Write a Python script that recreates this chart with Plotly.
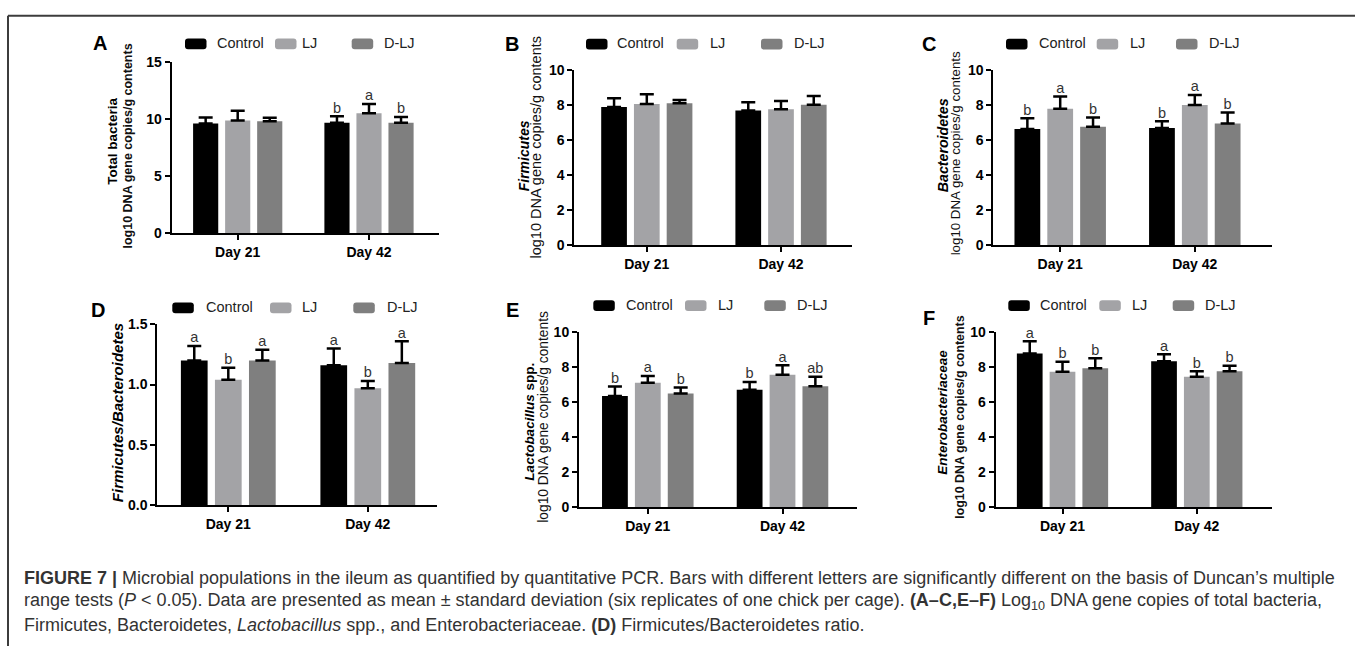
import plotly.graph_objects as go

W, H = 1355, 654
FONT = "Arial, 'Liberation Sans', sans-serif"

days = ["Day 21", "Day 42"]
groups = ["Control", "LJ", "D-LJ"]
colors = {"Control": "#000000", "LJ": "#a3a3a6", "D-LJ": "#7f7f7f"}

# ---- data (mean, SD, significance letters) ----
total_mean = {"Control": [9.60, 9.66], "LJ": [9.86, 10.50], "D-LJ": [9.80, 9.66]}
total_sd = {"Control": [0.52, 0.57], "LJ": [0.85, 0.80], "D-LJ": [0.30, 0.50]}
total_let = {"Control": ["", "b"], "LJ": ["", "a"], "D-LJ": ["", "b"]}

firm_mean = {"Control": [7.88, 7.68], "LJ": [8.05, 7.74], "D-LJ": [8.09, 8.01]}
firm_sd = {"Control": [0.50, 0.46], "LJ": [0.55, 0.48], "D-LJ": [0.18, 0.49]}
firm_let = {"Control": ["", ""], "LJ": ["", ""], "D-LJ": ["", ""]}

bact_mean = {"Control": [6.65, 6.71], "LJ": [7.81, 8.03], "D-LJ": [6.78, 6.97]}
bact_sd = {"Control": [0.62, 0.39], "LJ": [0.70, 0.56], "D-LJ": [0.53, 0.63]}
bact_let = {"Control": ["b", "b"], "LJ": ["a", "a"], "D-LJ": ["b", "b"]}

ratio_mean = {"Control": [1.20, 1.16], "LJ": [1.04, 0.97], "D-LJ": [1.20, 1.18]}
ratio_sd = {"Control": [0.12, 0.14], "LJ": [0.10, 0.06], "D-LJ": [0.09, 0.18]}
ratio_let = {"Control": ["a", "a"], "LJ": ["b", "b"], "D-LJ": ["a", "a"]}

lact_mean = {"Control": [6.34, 6.70], "LJ": [7.10, 7.55], "D-LJ": [6.49, 6.90]}
lact_sd = {"Control": [0.54, 0.44], "LJ": [0.38, 0.55], "D-LJ": [0.34, 0.54]}
lact_let = {"Control": ["b", "b"], "LJ": ["a", "a"], "D-LJ": ["b", "ab"]}

entero_mean = {"Control": [8.76, 8.33], "LJ": [7.73, 7.44], "D-LJ": [7.92, 7.76]}
entero_sd = {"Control": [0.70, 0.39], "LJ": [0.56, 0.32], "D-LJ": [0.58, 0.31]}
entero_let = {"Control": ["a", "a"], "LJ": ["b", "b"], "D-LJ": ["b", "b"]}

ticks_15 = [0, 5, 10, 15]
ticks_10 = [0, 2, 4, 6, 8, 10]
ticks_ratio = [0.0, 0.5, 1.0, 1.5]

# ---- layout of panels (pixel geometry) ----
panels = [
    dict(letter="A", mean=total_mean, sd=total_sd, let=total_let, ymax=15, ticks=ticks_15, fmt="d",
         x0=171.7, x1=439, y0=231, yt=55, c1=237.7, c2=369,
         title="<b>Total bacteria</b>", tsize=13.5, tx=113, ty=136,
         sub="<b>log10 DNA gene copies/g contents</b>", ssize=12.5, sx=128, sy=142,
         lab=(100, 36), leg_y=36.7, boxes=[185, 275, 351.7], texts=[215, 300, 381.7]),
    dict(letter="B", mean=firm_mean, sd=firm_sd, let=firm_let, ymax=10, ticks=ticks_10, fmt="d",
         x0=574.3, x1=852, y0=243, yt=63.3, c1=646.8, c2=781,
         title="<b><i>Firmicutes</i></b>", tsize=14, tx=524, ty=152,
         sub="log10 DNA gene copies/g contents", ssize=14.5, sx=536, sy=143,
         lab=(512, 37), leg_y=37, boxes=[586, 676.7, 761], texts=[615, 707.7, 791.7]),
    dict(letter="C", mean=bact_mean, sd=bact_sd, let=bact_let, ymax=10, ticks=ticks_10, fmt="d",
         x0=993.3, x1=1272, y0=243.3, yt=64, c1=1060.2, c2=1194.8,
         title="<b><i>Bacteroidetes</i></b>", tsize=14.2, tx=942.7, ty=141,
         sub="log10 DNA gene copies/g contents", ssize=13.3, sx=955, sy=149,
         lab=(929, 37), leg_y=37, boxes=[1006, 1096.7, 1176], texts=[1036.7, 1128.3, 1206.7]),
    dict(letter="D", mean=ratio_mean, sd=ratio_sd, let=ratio_let, ymax=1.5, ticks=ticks_ratio, fmt=".1f",
         x0=157.3, x1=437.3, y0=509.5, yt=324.3, c1=228.3, c2=367.8,
         title="<b><i>Firmicutes/Bacteroidetes</i></b>", tsize=15, tx=118.3, ty=415,
         sub=None, ssize=12, sx=0, sy=0,
         lab=(98, 310), leg_y=307.3, boxes=[172.3, 270, 353.3], texts=[204, 300, 385]),
    dict(letter="E", mean=lact_mean, sd=lact_sd, let=lact_let, ymax=10, ticks=ticks_10, fmt="d",
         x0=579, x1=857, y0=511.6, yt=332, c1=647.8, c2=782.5,
         title="<b><i>Lactobacillus</i> spp.</b>", tsize=13.5, tx=530, ty=424,
         sub="log10 DNA gene copies/g contents", ssize=13.8, sx=544, sy=419,
         lab=(512, 310), leg_y=305, boxes=[593.3, 685, 764.3], texts=[624, 716, 795]),
    dict(letter="F", mean=entero_mean, sd=entero_sd, let=entero_let, ymax=10, ticks=ticks_10, fmt="d",
         x0=995.7, x1=1272, y0=511.6, yt=332, c1=1062.5, c2=1196.8,
         title="<b><i>Enterobacteriaceae</i></b>", tsize=13.5, tx=943, ty=415,
         sub="<b>log10 DNA gene copies/g contents</b>", ssize=12.4, sx=960, sy=419,
         lab=(929, 318), leg_y=305, boxes=[1008.3, 1099.3, 1172.7], texts=[1038.3, 1130, 1203.3]),
]


def px(x):
    return x / W


def py(y):
    return 1 - y / H


def rounded_rect(xl, yc, w=21.5, h=11, r=3):
    x0, x1 = px(xl), px(xl + w)
    y0, y1 = py(yc + h / 2), py(yc - h / 2)
    rx, ry = r / W, r / H
    return (f"M{x0+rx},{y0} L{x1-rx},{y0} Q{x1},{y0} {x1},{y0+ry} L{x1},{y1-ry} "
            f"Q{x1},{y1} {x1-rx},{y1} L{x0+rx},{y1} Q{x0},{y1} {x0},{y1-ry} "
            f"L{x0},{y0+ry} Q{x0},{y0} {x0+rx},{y0} Z")


fig = go.Figure()
annotations = []
shapes = []
layout_axes = {}

for i, p in enumerate(panels, start=1):
    xa = "x" if i == 1 else f"x{i}"
    ya = "y" if i == 1 else f"y{i}"
    for j, g in enumerate(groups):
        fig.add_trace(go.Bar(
            x=days, y=p["mean"][g], name=g, marker_color=colors[g], marker_line_width=0,
            error_y=dict(type="data", symmetric=False, array=p["sd"][g], arrayminus=[0, 0],
                         color="black", thickness=2.5, width=7),
            offsetgroup=str(j), xaxis=xa, yaxis=ya, showlegend=False, hoverinfo="skip"))
    for j, g in enumerate(groups):
        pts = [(d, m + s, l) for d, m, s, l in zip(days, p["mean"][g], p["sd"][g], p["let"][g]) if l]
        if not pts:
            continue
        fig.add_trace(go.Scatter(
            x=[q[0] for q in pts], y=[q[1] for q in pts], mode="text",
            text=[q[2] for q in pts], textposition="top center",
            textfont=dict(family=FONT, size=14.5, color="#333333"),
            offsetgroup=str(j), xaxis=xa, yaxis=ya, showlegend=False, cliponaxis=False,
            hoverinfo="skip"))

    s = p["c2"] - p["c1"]
    left = (p["x0"] - p["c1"]) / s
    right = (p["x1"] - p["c1"]) / s
    axname_x = "xaxis" if i == 1 else f"xaxis{i}"
    axname_y = "yaxis" if i == 1 else f"yaxis{i}"
    layout_axes[axname_x] = dict(
        domain=[px(p["x0"]), px(p["x1"])], range=[left, right], type="category",
        categoryorder="array", categoryarray=days,
        anchor=ya, showline=True, linecolor="black", linewidth=2, ticks="outside",
        ticklen=5, tickwidth=2, tickcolor="black", showgrid=False, zeroline=False,
        tickfont=dict(family=FONT, size=14, color="black", weight="bold"), fixedrange=True)
    layout_axes[axname_y] = dict(
        domain=[py(p["y0"]), py(p["yt"])], range=[0, p["ymax"]], anchor=xa,
        tickmode="array", tickvals=p["ticks"], tickformat=p["fmt"],
        showline=True, linecolor="black", linewidth=2, ticks="outside", ticklen=5,
        tickwidth=2, tickcolor="black", showgrid=False, zeroline=False,
        tickfont=dict(family=FONT, size=14, color="black", weight="bold"), fixedrange=True)

    # y titles
    annotations.append(dict(xref="paper", yref="paper", x=px(p["tx"]), y=py(p["ty"]),
                            text=p["title"], textangle=-90, showarrow=False,
                            xanchor="center", yanchor="middle",
                            font=dict(family=FONT, size=p["tsize"], color="black")))
    if p["sub"]:
        annotations.append(dict(xref="paper", yref="paper", x=px(p["sx"]), y=py(p["sy"]),
                                text=p["sub"], textangle=-90, showarrow=False,
                                xanchor="center", yanchor="middle",
                                font=dict(family=FONT, size=p["ssize"], color="#111111")))
    # panel letter
    annotations.append(dict(xref="paper", yref="paper", x=px(p["lab"][0]), y=py(p["lab"][1]),
                            text="<b>" + p["letter"] + "</b>", showarrow=False,
                            xanchor="center", yanchor="middle",
                            font=dict(family=FONT, size=20, color="black")))
    # legend
    for j, g in enumerate(groups):
        shapes.append(dict(type="path", xref="paper", yref="paper",
                           path=rounded_rect(p["boxes"][j], p["leg_y"]),
                           fillcolor=colors[g], line=dict(width=0)))
        annotations.append(dict(xref="paper", yref="paper", x=px(p["texts"][j]),
                                y=py(p["leg_y"] - 1), text=g, showarrow=False,
                                xanchor="left", yanchor="middle",
                                font=dict(family=FONT, size=14.5, color="#222222")))

# frame
shapes.append(dict(type="line", xref="paper", yref="paper", x0=px(8), x1=px(8),
                   y0=py(8), y1=0, line=dict(color="#3c3c3c", width=2)))
shapes.append(dict(type="line", xref="paper", yref="paper", x0=px(8), x1=1,
                   y0=py(8), y1=py(8), line=dict(color="#3c3c3c", width=2)))

# caption
caption = [
    "<b>FIGURE 7 |</b> Microbial populations in the ileum as quantified by quantitative PCR. "
    "Bars with different letters are significantly different on the basis of Duncan’s multiple",
    "range tests (<i>P</i> &lt; 0.05). Data are presented as mean ± standard deviation "
    "(six replicates of one chick per cage). <b>(A–C,E–F)</b> Log<sub>10</sub> DNA gene copies "
    "of total bacteria,",
    "Firmicutes, Bacteroidetes, <i>Lactobacillus</i> spp., and Enterobacteriaceae. "
    "<b>(D)</b> Firmicutes/Bacteroidetes ratio.",
]
for k, (line, yc) in enumerate(zip(caption, [584, 608, 632])):
    annotations.append(dict(xref="paper", yref="paper", x=px(22), y=py(yc), text=line,
                            showarrow=False, xanchor="left", yanchor="middle",
                            font=dict(family=FONT, size=18, color="#333333")))

fig.update_layout(
    width=W, height=H, margin=dict(l=0, r=0, t=0, b=0),
    paper_bgcolor="white", plot_bgcolor="white",
    barmode="group", bargap=0.268, bargroupgap=0.215,
    scattermode="group",
    showlegend=False, annotations=annotations, shapes=shapes,
    font=dict(family=FONT),
    **layout_axes,
)

fig.write_html("out.html")
